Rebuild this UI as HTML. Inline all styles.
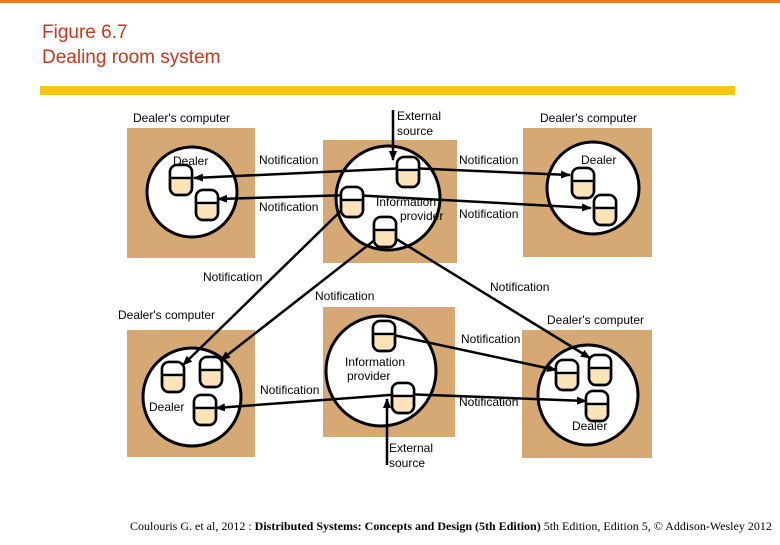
<!DOCTYPE html>
<html><head><meta charset="utf-8"><style>
body{margin:0;width:780px;height:540px;background:#fff;overflow:hidden;font-family:"Liberation Sans",sans-serif}
</style></head><body>
<svg width="780" height="540" viewBox="0 0 780 540" xmlns="http://www.w3.org/2000/svg" font-family="Liberation Sans, sans-serif">
<defs>
<marker id="a" markerWidth="10" markerHeight="8" refX="9" refY="4" orient="auto" markerUnits="userSpaceOnUse"><path d="M0,0 L10,4 L0,8 z" fill="#000"/></marker>
<g id="c"><rect x="-11" y="-15" width="22" height="30" rx="7" fill="#fde3b8" stroke="#000" stroke-width="2.5"/><path d="M-10,-14 H10 V0 H-10 z" fill="#fff"/><rect x="-11" y="-15" width="22" height="30" rx="7" fill="none" stroke="#000" stroke-width="2.5"/><line x1="-11" y1="-2" x2="11" y2="-2" stroke="#000" stroke-width="2.5"/></g>
</defs>
<rect x="0" y="0" width="780" height="3" fill="#e87722"/>
<text x="42" y="38" font-size="19" fill="#c8361d">Figure 6.7</text>
<text x="42" y="63" font-size="19" fill="#c8361d">Dealing room system</text>
<rect x="40" y="86" width="695" height="9" fill="#f5c518"/>
<g fill="#d5a874">
<rect x="127" y="128" width="128" height="130"/>
<rect x="323" y="140" width="134" height="123"/>
<rect x="523" y="128" width="129" height="129"/>
<rect x="127" y="330" width="128" height="127"/>
<rect x="323" y="307" width="132" height="130"/>
<rect x="522" y="330" width="130" height="128"/>
</g>
<g fill="#fff" stroke="#000" stroke-width="3">
<circle cx="192" cy="192" r="45"/>
<circle cx="388" cy="198" r="52"/>
<circle cx="593" cy="188" r="46"/>
<circle cx="192" cy="397" r="49"/>
<circle cx="381" cy="371" r="55"/>
<circle cx="588" cy="395" r="50"/>
</g>
<g stroke="#000" stroke-width="2.5" fill="none" marker-end="url(#a)">
<line x1="408" y1="168" x2="194" y2="178"/>
<line x1="408" y1="168" x2="570" y2="175"/>
<line x1="352" y1="195" x2="218" y2="199"/>
<line x1="352" y1="195" x2="591" y2="208"/>
<line x1="352" y1="200" x2="183" y2="365"/>
<line x1="385" y1="232" x2="221" y2="360"/>
<line x1="385" y1="232" x2="590" y2="358"/>
<line x1="384" y1="333" x2="556" y2="370"/>
<line x1="403" y1="394" x2="216" y2="408"/>
<line x1="403" y1="394" x2="586" y2="401"/>
<line x1="393" y1="110" x2="393" y2="160"/>
<line x1="387" y1="465" x2="387" y2="399"/>
</g>
<g>
<use href="#c" x="181" y="180"/><use href="#c" x="207" y="205"/>
<use href="#c" x="408" y="172"/><use href="#c" x="352" y="202"/><use href="#c" x="385" y="232"/>
<use href="#c" x="583" y="183"/><use href="#c" x="605" y="210"/>
<use href="#c" x="173" y="377"/><use href="#c" x="211" y="372"/><use href="#c" x="205" y="410"/>
<use href="#c" x="384" y="336"/><use href="#c" x="403" y="398"/>
<use href="#c" x="567" y="375"/><use href="#c" x="600" y="370"/><use href="#c" x="597" y="406"/>
</g>
<g font-size="12" fill="#000">
<text x="133" y="122">Dealer's computer</text>
<text x="540" y="122">Dealer's computer</text>
<text x="118" y="319">Dealer's computer</text>
<text x="547" y="324">Dealer's computer</text>
<text x="397" y="120">External</text><text x="397" y="135">source</text>
<text x="389" y="452">External</text><text x="389" y="467">source</text>
<text x="173" y="165">Dealer</text>
<text x="581" y="164">Dealer</text>
<text x="149" y="411">Dealer</text>
<text x="572" y="430">Dealer</text>
<text x="376" y="206">Information</text><text x="400" y="220">provider</text>
<text x="345" y="366">Information</text><text x="347" y="380">provider</text>
<text x="259" y="164">Notification</text>
<text x="459" y="164">Notification</text>
<text x="259" y="211">Notification</text>
<text x="459" y="218">Notification</text>
<text x="203" y="281">Notification</text>
<text x="315" y="300">Notification</text>
<text x="490" y="291">Notification</text>
<text x="461" y="343">Notification</text>
<text x="260" y="394">Notification</text>
<text x="459" y="406">Notification</text>
</g>
<text x="130" y="530" font-size="12" font-family="Liberation Serif, serif">Coulouris G. et al, 2012 : <tspan font-weight="bold">Distributed Systems: Concepts and Design (5th Edition)</tspan> 5th Edition, Edition 5, © Addison-Wesley 2012</text>
</svg>
</body></html>
